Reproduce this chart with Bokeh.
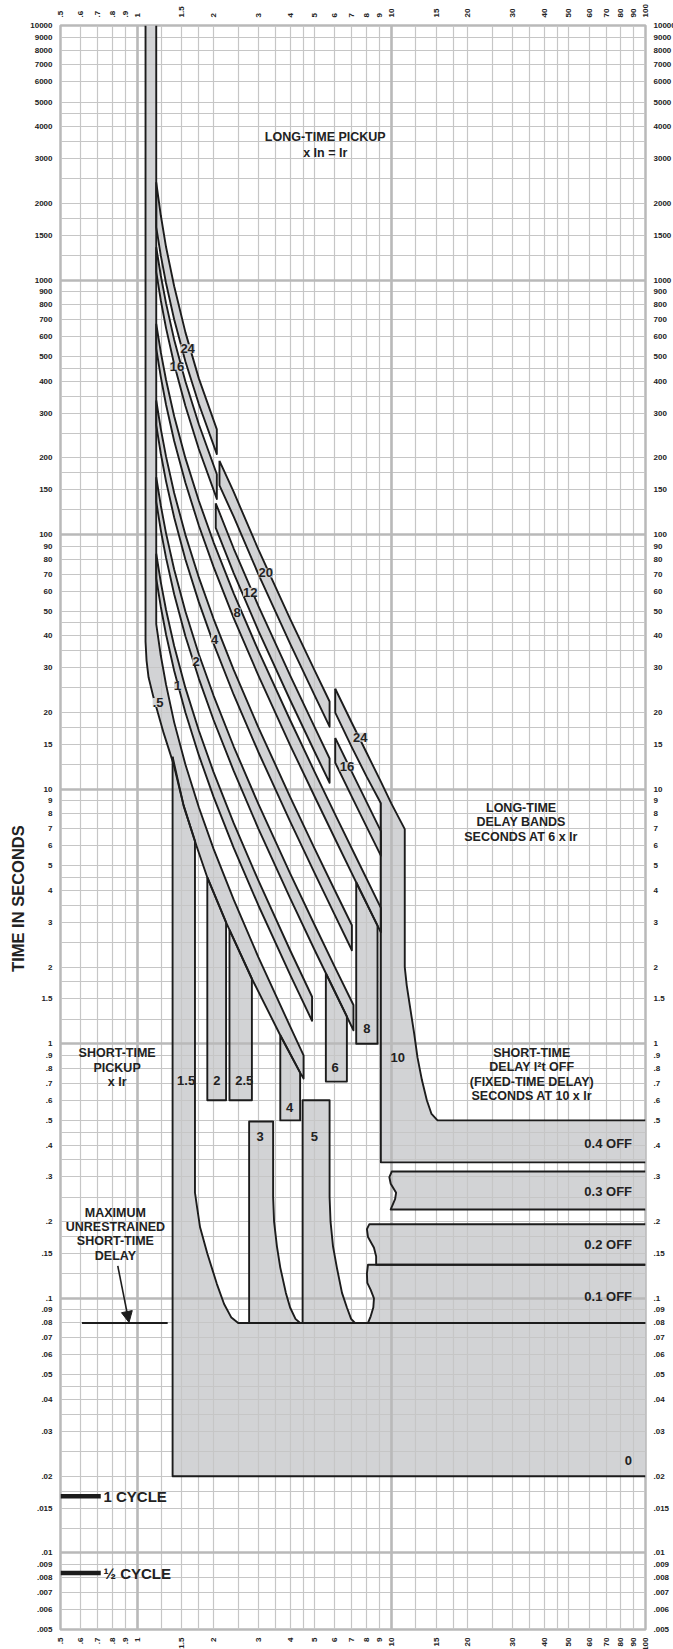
import math
from bokeh.plotting import figure
from bokeh.models import (Range1d, LogAxis, FixedTicker, Grid, Label, Arrow,
                          NormalHead, CustomJSTickFormatter)
from bokeh.core.properties import value
from bokeh.embed import file_html
from bokeh.resources import INLINE

# ---------------- axes ----------------
XMIN, XMAX = 0.5, 100
YMIN, YMAX = 0.005, 10000

X_TICKS = [0.5, 0.6, 0.7, 0.8, 0.9, 1, 1.5, 2, 3, 4, 5, 6, 7, 8, 9, 10, 15, 20, 30, 40, 50, 60, 70, 80, 90, 100]
X_TICK_LABELS = [".5", ".6", ".7", ".8", ".9", "1", "1.5", "2", "3", "4", "5", "6", "7", "8", "9", "10",
                 "15", "20", "30", "40", "50", "60", "70", "80", "90", "100"]
X_MINOR = [1.25, 1.75, 2.5, 3.5, 4.5, 12.5, 17.5, 25, 35, 45]
X_DECADES = [1, 10]

Y_TICKS = [0.005, 0.006, 0.007, 0.008, 0.009,
           0.01, 0.015, 0.02, 0.03, 0.04, 0.05, 0.06, 0.07, 0.08, 0.09,
           0.1, 0.15, 0.2, 0.3, 0.4, 0.5, 0.6, 0.7, 0.8, 0.9,
           1, 1.5, 2, 3, 4, 5, 6, 7, 8, 9,
           10, 15, 20, 30, 40, 50, 60, 70, 80, 90,
           100, 150, 200, 300, 400, 500, 600, 700, 800, 900,
           1000, 1500, 2000, 3000, 4000, 5000, 6000, 7000, 8000, 9000, 10000]
Y_TICK_LABELS = [".005", ".006", ".007", ".008", ".009",
                 ".01", ".015", ".02", ".03", ".04", ".05", ".06", ".07", ".08", ".09",
                 ".1", ".15", ".2", ".3", ".4", ".5", ".6", ".7", ".8", ".9",
                 "1", "1.5", "2", "3", "4", "5", "6", "7", "8", "9",
                 "10", "15", "20", "30", "40", "50", "60", "70", "80", "90",
                 "100", "150", "200", "300", "400", "500", "600", "700", "800", "900",
                 "1000", "1500", "2000", "3000", "4000", "5000", "6000", "7000", "8000", "9000", "10000"]
Y_MINOR = [0.0125, 0.0175, 0.025, 0.035, 0.045, 0.125, 0.175, 0.25, 0.35, 0.45,
           1.25, 1.75, 2.5, 3.5, 4.5, 12.5, 17.5, 25, 35, 45,
           125, 175, 250, 350, 450, 1250, 1750, 2500, 3500, 4500]
Y_DECADES = [0.01, 0.1, 1, 10, 100, 1000]

# ---------------- long-time pickup + .5 s band ----------------
B05_UX = [1.19, 1.24, 1.3, 1.4, 1.55, 1.75, 2.0, 2.4, 3.0, 4.0, 4.52]
B05_UT = [44.5, 33.5, 25.8, 18.3, 12.5, 8.49, 5.83, 3.68, 2.19, 1.17, 0.90]
B05_LX = [1.08, 1.08, 1.09, 1.11, 1.16, 1.273, 1.39, 1.526, 1.722, 1.89, 2.24, 2.83, 3.66, 4.38, 4.52]
B05_LT = [10000, 38, 32, 27.5, 23, 16.6, 12.6, 8.6, 5.9, 4.5, 3.0, 1.8, 1.08, 0.77, 0.73]

# ---------------- long-time delay bands (x, upper t, lower t) ----------------
B1_X = [1.19, 1.24, 1.3, 1.4, 1.55, 1.75, 2.0, 2.4, 3.0, 4.0, 4.88]
B1_U = [84.1, 65.1, 50.7, 36.5, 25.0, 17.0, 11.67, 7.35, 4.38, 2.33, 1.53]
B1_L = [67.3, 52.1, 40.6, 29.2, 20.0, 13.6, 9.33, 5.88, 3.5, 1.87, 1.23]

B2_X = [1.19, 1.24, 1.3, 1.4, 1.55, 1.75, 2.0, 2.4, 3.0, 4.0, 5.0, 6.0, 7.1]
B2_U = [168.2, 130.2, 101.4, 72.9, 49.9, 33.9, 23.33, 14.71, 8.75, 4.67, 2.92, 2.0, 1.42]
B2_L = [134.6, 104.2, 81.2, 58.3, 39.9, 27.2, 18.7, 11.8, 7.0, 3.73, 2.33, 1.6, 1.13]

B4_X = [1.19, 1.24, 1.3, 1.4, 1.55, 1.75, 2.0, 2.4, 3.0, 4.0, 5.0, 6.0, 7.0]
B4_U = [336.4, 260.4, 202.9, 145.8, 99.8, 67.9, 46.7, 29.4, 17.5, 9.33, 5.83, 4.0, 2.92]
B4_L = [269.2, 208.3, 162.3, 116.7, 79.9, 54.3, 37.3, 23.5, 14.0, 7.47, 4.67, 3.2, 2.33]

B8_X = [1.19, 1.24, 1.3, 1.4, 1.55, 1.75, 2.0, 2.4, 3.0, 4.0, 5.0, 6.0, 7.5, 9.1]
B8_U = [672.9, 520.8, 405.8, 291.7, 199.7, 135.8, 93.3, 58.8, 35.0, 18.7, 11.67, 8.0, 5.07, 3.42]
B8_L = [538.3, 416.6, 324.6, 233.4, 159.8, 108.6, 74.7, 47.0, 28.0, 14.9, 9.34, 6.4, 4.05, 2.74]

B12_X = [2.04, 2.4, 3.0, 4.0, 5.0, 5.72]
B12_U = [132.8, 88.2, 52.5, 28.0, 17.5, 13.2]
B12_L = [106.3, 70.6, 42.0, 22.4, 14.0, 10.6]

B16A_X = [1.19, 1.24, 1.3, 1.4, 1.55, 1.75, 2.06]
B16A_U = [1346, 1042, 811.5, 583.4, 399.4, 271.5, 172.6]
B16A_L = [1077, 833, 649, 467, 320, 217, 138.1]
B16B_X = [6.02, 7.0, 8.0, 9.1]
B16B_U = [15.9, 11.67, 8.89, 6.84]
B16B_L = [12.7, 9.33, 7.11, 5.48]

B20_X = [2.11, 2.4, 3.0, 4.0, 5.0, 5.72]
B20_U = [195.0, 147.1, 87.5, 46.7, 29.2, 22.1]
B20_L = [156.0, 117.6, 70.0, 37.3, 23.3, 17.6]

B24A_X = [1.19, 1.24, 1.3, 1.4, 1.55, 1.75, 2.06]
B24A_U = [2422, 1797, 1351, 945, 623, 411, 259]
B24A_L = [1615, 1250, 974, 700, 479, 326, 207.2]
B24B_UX = [6.02, 7.0, 8.0, 9.1, 10.0, 11.3]
B24B_U = [24.8, 18.2, 13.9, 10.7, 8.8, 6.97]
B24B_LX = [6.02, 7.0, 8.0, 9.1]
B24B_L = [20.0, 14.6, 11.2, 8.8]

# ---------------- short-time pickup bands ----------------
ST10_LEFT = 9.1
ST10_CURVE_X = [11.3, 11.5, 11.86, 12.3, 12.68, 13.2, 13.8, 14.4, 15.2]
ST10_CURVE_T = [2.0, 1.7, 1.39, 1.1, 0.884, 0.72, 0.6, 0.53, 0.5]
OFF04_T = [0.5, 0.342]

ST15_X = [1.38, 1.69]
ST15_TOP_X = [1.38, 1.526, 1.69]
ST15_TOP_T = [13.4, 8.6, 6.25]
ST15_CURVE_X = [2.5, 2.35, 2.2, 2.06, 1.89, 1.77, 1.72, 1.69]
ST15_CURVE_T = [0.08, 0.084, 0.095, 0.114, 0.15, 0.19, 0.23, 0.26]
ZERO_BAND_T = [0.02, 0.08]

ST2_X, ST2_TOP, ST2_BOT = [1.89, 2.24], [4.5, 3.0], 0.6
ST25_X, ST25_TOP, ST25_BOT = [2.31, 2.83], [2.8, 1.8], 0.6
ST4_X, ST4_TOP, ST4_BOT = [3.66, 4.38], [1.08, 0.77], 0.5
ST6_X, ST6_TOP, ST6_BOT = [5.53, 6.69], [1.89, 1.28], 0.71
ST8_X, ST8_TOP, ST8_BOT = [7.28, 8.83], [4.31, 2.91], 1.0

ST3_LEFT, ST3_TOP = 2.76, 0.495
ST3_CURVE_X = [3.43, 3.43, 3.46, 3.55, 3.66, 3.85, 4.0, 4.2, 4.38]
ST3_CURVE_T = [0.495, 0.25, 0.2, 0.16, 0.132, 0.105, 0.092, 0.083, 0.08]
ST5_LEFT, ST5_TOP = 4.48, 0.6
ST5_CURVE_X = [5.72, 5.72, 5.77, 5.9, 6.11, 6.4, 6.69, 6.95, 7.2]
ST5_CURVE_T = [0.6, 0.25, 0.2, 0.16, 0.132, 0.105, 0.092, 0.083, 0.08]

# ---------------- short-time delay (I2t OFF) bands ----------------
OFF03_T = [0.315, 0.2234]
OFF03_WX = [9.95, 10.35, 10.45, 9.95, 9.83, 10.05]
OFF03_WT = [0.2234, 0.245, 0.26, 0.282, 0.299, 0.315]
OFF02_T = [0.1955, 0.1355]
OFF02_WX = [8.72, 8.72, 8.55, 8.1, 8.02, 8.2]
OFF02_WT = [0.1355, 0.146, 0.158, 0.174, 0.187, 0.1955]
OFF01_T = [0.1355, 0.08]
OFF01_WX = [8.1, 8.3, 8.5, 8.55, 8.3, 8.05, 8.02, 8.1]
OFF01_WT = [0.08, 0.085, 0.092, 0.1, 0.108, 0.115, 0.125, 0.1355]

MAXU_X = [0.607, 1.32]
MAXU_T = [0.08, 0.08]
ARROW_X = [0.84, 0.93]
ARROW_T = [0.134, 0.0804]
CYCLE_X = [0.5, 0.72]
CYCLE_T = [0.01667, 0.00833]
CYCLE_LABELS = ["1 CYCLE", "\u00bd CYCLE"]
CYCLE_LABEL_X = 0.738

# ---------------- labels ----------------
LT_LABELS = [".5", "1", "2", "4", "8", "12", "20", "24", "16", "24", "16"]
LT_LABEL_X = [1.21, 1.445, 1.706, 2.02, 2.474, 2.79, 3.21, 1.581, 1.437, 7.55, 6.69]
LT_LABEL_T = [21.9, 25.5, 31.8, 38.9, 49.5, 59.4, 70.7, 537, 457, 16.0, 12.26]

ST_LABELS = ["1.5", "2", "2.5", "3", "4", "5", "6", "8", "10"]
ST_LABEL_X = [1.56, 2.06, 2.64, 3.05, 3.98, 4.98, 6.02, 8.02, 10.6]
ST_LABEL_T = [0.716, 0.716, 0.716, 0.431, 0.562, 0.431, 0.807, 1.148, 0.884]

OFF_LABELS = ["0.4 OFF", "0.3 OFF", "0.2 OFF", "0.1 OFF", "0"]
OFF_LABEL_X = 88.5
OFF_LABEL_T = [0.406, 0.263, 0.162, 0.102, 0.023]

BLOCKS = [
    (["LONG-TIME PICKUP", "x In = Ir"], 5.5, [3663, 3170]),
    (["LONG-TIME", "DELAY BANDS", "SECONDS AT 6 x Ir"], 32.4, [8.43, 7.41, 6.47]),
    (["SHORT-TIME", "DELAY I\u00b2t OFF", "(FIXED-TIME DELAY)", "SECONDS AT 10 x Ir"], 35.7, [0.919, 0.807, 0.705, 0.625]),
    (["SHORT-TIME", "PICKUP", "x Ir"], 0.835, [0.918, 0.805, 0.705]),
    (["MAXIMUM", "UNRESTRAINED", "SHORT-TIME", "DELAY"], 0.822, [0.2163, 0.1898, 0.1672, 0.146]),
]
YTITLE = "TIME IN SECONDS"
YTITLE_PAD = 31   # no-break spaces that move the centred title down along the axis

# ---------------- styles ----------------
FILL = "#d2d3d5"
EDGE = "#1c1c1c"
GRID = "#c6c6c6"
GRID_MAJOR = "#b9b9b9"
TEXT = "#222222"
FONT = "Liberation Sans"

p = figure(frame_width=585, frame_height=1604,
           x_axis_type="log", y_axis_type="log",
           x_range=Range1d(XMIN, XMAX), y_range=Range1d(YMIN, YMAX),
           output_backend="svg", toolbar_location=None,
           min_border_left=60, min_border_right=28, min_border_top=25, min_border_bottom=20)
p.background_fill_color = "white"
p.border_fill_color = "white"
p.outline_line_color = GRID_MAJOR
p.outline_line_width = 2.5

fmt_js = """
for (let i = 0; i < tvals.length; i++) {
  if (Math.abs(tvals[i] - tick) <= 1e-9 * Math.max(1, Math.abs(tick))) return tlabels[i];
}
return "";
"""


def style_axis(ax, ticks, labels, minor, vertical=False):
    ax.ticker = FixedTicker(ticks=ticks, minor_ticks=minor)
    ax.formatter = CustomJSTickFormatter(args=dict(tvals=ticks, tlabels=labels), code=fmt_js)
    ax.axis_line_color = None
    ax.major_tick_line_color = None
    ax.minor_tick_line_color = None
    ax.major_label_text_font = FONT
    ax.major_label_text_font_style = "bold"
    ax.major_label_text_font_size = "8px"
    ax.major_label_text_color = TEXT
    ax.major_label_standoff = 2
    if vertical:
        ax.major_label_orientation = math.pi / 2


style_axis(p.xaxis[0], X_TICKS, X_TICK_LABELS, X_MINOR, vertical=True)
style_axis(p.yaxis[0], Y_TICKS, Y_TICK_LABELS, Y_MINOR)
p.yaxis[0].axis_label = YTITLE + "\u00a0" * YTITLE_PAD
p.yaxis[0].axis_label_text_font = FONT
p.yaxis[0].axis_label_text_font_style = "bold"
p.yaxis[0].axis_label_text_font_size = "16.5px"
p.yaxis[0].axis_label_text_color = TEXT
p.yaxis[0].axis_label_standoff = 0
top_ax = LogAxis()
style_axis(top_ax, X_TICKS, X_TICK_LABELS, X_MINOR, vertical=True)
p.add_layout(top_ax, "above")
right_ax = LogAxis()
style_axis(right_ax, Y_TICKS, Y_TICK_LABELS, Y_MINOR)
p.add_layout(right_ax, "right")

for g, ticks, minor in ((p.xgrid[0], X_TICKS, X_MINOR), (p.ygrid[0], Y_TICKS, Y_MINOR)):
    g.ticker = FixedTicker(ticks=ticks, minor_ticks=minor)
    g.grid_line_color = GRID
    g.grid_line_width = 1.2
    g.minor_grid_line_color = GRID
    g.minor_grid_line_width = 1.2
p.add_layout(Grid(dimension=0, ticker=FixedTicker(ticks=X_DECADES), grid_line_color=GRID_MAJOR, grid_line_width=2.6))
p.add_layout(Grid(dimension=1, ticker=FixedTicker(ticks=Y_DECADES), grid_line_color=GRID_MAJOR, grid_line_width=2.6))

# ---------------- build shapes ----------------
polys = []
polys.append(([B05_UX[0]] + B05_LX + B05_UX[::-1], [YMAX] + B05_LT + B05_UT[::-1]))
for bx, bu, bl in ((B1_X, B1_U, B1_L), (B2_X, B2_U, B2_L), (B4_X, B4_U, B4_L), (B8_X, B8_U, B8_L),
                   (B12_X, B12_U, B12_L), (B16A_X, B16A_U, B16A_L), (B16B_X, B16B_U, B16B_L),
                   (B20_X, B20_U, B20_L), (B24A_X, B24A_U, B24A_L)):
    polys.append((bx + bx[::-1], bu + bl[::-1]))
polys.append((B24B_UX + ST10_CURVE_X + [XMAX, XMAX, ST10_LEFT] + B24B_LX[::-1],
               B24B_U + ST10_CURVE_T + [OFF04_T[0], OFF04_T[1], OFF04_T[1]] + B24B_L[::-1]))
polys.append(([ST15_TOP_X[0], ST15_X[0], XMAX, XMAX] + ST15_CURVE_X + ST15_TOP_X[::-1][:-1],
              [ST15_TOP_T[0], ZERO_BAND_T[0], ZERO_BAND_T[0], ZERO_BAND_T[1]] + ST15_CURVE_T + ST15_TOP_T[::-1][:-1]))
for sx, stop, sbot in ((ST2_X, ST2_TOP, ST2_BOT), (ST25_X, ST25_TOP, ST25_BOT), (ST4_X, ST4_TOP, ST4_BOT),
                       (ST6_X, ST6_TOP, ST6_BOT), (ST8_X, ST8_TOP, ST8_BOT)):
    polys.append(([sx[0], sx[0], sx[1], sx[1]], [stop[0], sbot, sbot, stop[1]]))
polys.append(([ST3_LEFT, ST3_LEFT] + ST3_CURVE_X, [ST3_CURVE_T[-1], ST3_TOP] + ST3_CURVE_T))
polys.append(([ST5_LEFT, ST5_LEFT] + ST5_CURVE_X, [ST5_CURVE_T[-1], ST5_TOP] + ST5_CURVE_T))
polys.append(([XMAX, XMAX] + OFF03_WX, OFF03_T + OFF03_WT))
polys.append(([XMAX, XMAX] + OFF02_WX, OFF02_T + OFF02_WT))
polys.append(([XMAX, XMAX] + OFF01_WX, OFF01_T + OFF01_WT))


def outline(xs, ys):
    out_x, out_y = [], []
    cx, cy = [xs[0]], [ys[0]]
    n = len(xs)
    for i in range(1, n + 1):
        x0, y0 = xs[i - 1], ys[i - 1]
        x1, y1 = xs[i % n], ys[i % n]
        border = (x0 >= XMAX and x1 >= XMAX) or (y0 >= YMAX and y1 >= YMAX)
        if border:
            if len(cx) > 1:
                out_x.append(cx)
                out_y.append(cy)
            cx, cy = [x1], [y1]
        else:
            cx.append(x1)
            cy.append(y1)
    if len(cx) > 1:
        out_x.append(cx)
        out_y.append(cy)
    return out_x, out_y


p.patches(xs=[q[0] for q in polys], ys=[q[1] for q in polys],
          fill_color=FILL, line_color=None, level="image")
lx, ly = [], []
for xs, ys in polys:
    a, b = outline(xs, ys)
    lx += a
    ly += b
lx.append(MAXU_X)
ly.append(MAXU_T)
p.multi_line(xs=lx, ys=ly, line_color=EDGE, line_width=1.9, line_join="round")

p.multi_line(xs=[CYCLE_X, CYCLE_X], ys=[[CYCLE_T[0]] * 2, [CYCLE_T[1]] * 2], line_color=EDGE, line_width=4.5)
p.text(x=[CYCLE_LABEL_X] * 2, y=CYCLE_T, text=CYCLE_LABELS, text_font=value(FONT), text_font_style="bold",
       text_font_size="15px", text_color=TEXT, text_align="left", text_baseline="middle")

p.add_layout(Arrow(end=NormalHead(size=11, fill_color=EDGE, line_color=EDGE),
                   x_start=ARROW_X[0], y_start=ARROW_T[0], x_end=ARROW_X[1], y_end=ARROW_T[1],
                   line_color=EDGE, line_width=1.6))

bx_, by_, bt_ = [], [], []
for lines, x, ts in BLOCKS:
    for s, t in zip(lines, ts):
        bx_.append(x)
        by_.append(t)
        bt_.append(s)
p.text(x=bx_, y=by_, text=bt_, text_font=value(FONT), text_font_style="bold", text_font_size="12.5px",
       text_color=TEXT, text_align="center", text_baseline="middle")

for s, x, t in zip(LT_LABELS, LT_LABEL_X, LT_LABEL_T):
    p.add_layout(Label(x=x, y=t, text=s, text_font=FONT, text_font_style="bold", text_font_size="13px",
                       text_color=TEXT, text_align="center", text_baseline="middle",
                       background_fill_color=FILL))
p.text(x=ST_LABEL_X, y=ST_LABEL_T, text=ST_LABELS, text_font=value(FONT), text_font_style="bold",
       text_font_size="13px", text_color=TEXT, text_align="center", text_baseline="middle")
p.text(x=[OFF_LABEL_X] * len(OFF_LABELS), y=OFF_LABEL_T, text=OFF_LABELS, text_font=value(FONT),
       text_font_style="bold", text_font_size="13px", text_color=TEXT, text_align="right", text_baseline="middle")

open("out.html", "w").write(file_html(p, INLINE))
